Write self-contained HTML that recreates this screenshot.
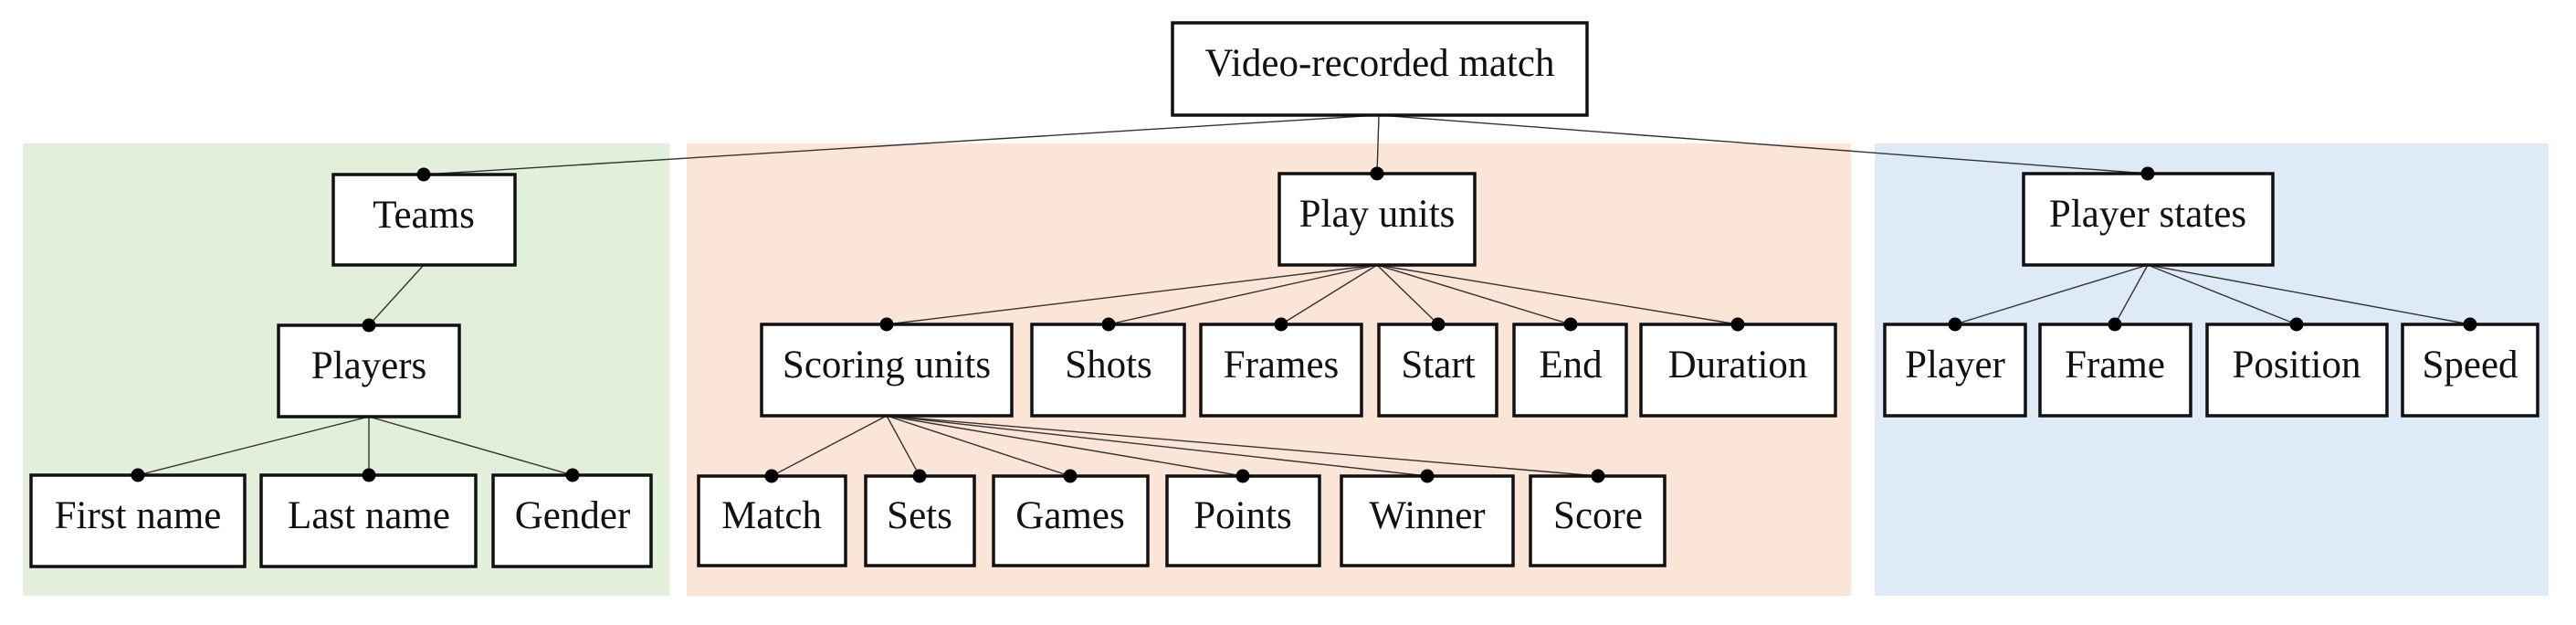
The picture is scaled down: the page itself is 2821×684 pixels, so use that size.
<!DOCTYPE html>
<html><head><meta charset="utf-8"><style>
html,body{margin:0;padding:0;background:#fff}
svg{display:block}
text{font-family:"Liberation Serif",serif;font-size:43px;fill:#111;text-anchor:middle}
.b{fill:#fff;stroke:#111;stroke-width:3.5}
.l{stroke:#333;stroke-width:1.4;fill:none}
</style></head><body>
<svg width="2821" height="684" viewBox="0 0 2821 684" xmlns="http://www.w3.org/2000/svg">
<rect x="25" y="157" width="708" height="495" fill="#e2efda"/>
<rect x="752" y="157" width="1275" height="495" fill="#fbe5d6"/>
<rect x="2053" y="157" width="738" height="495" fill="#deebf7"/>
<g class="l">
<line x1="1510" y1="126" x2="464" y2="191"/>
<line x1="1510" y1="126" x2="1508" y2="190"/>
<line x1="1510" y1="126" x2="2352" y2="190"/>
<line x1="464" y1="290" x2="404" y2="356"/>
<line x1="404" y1="456" x2="151" y2="520"/>
<line x1="404" y1="456" x2="404" y2="520"/>
<line x1="404" y1="456" x2="627" y2="520"/>
<line x1="1508" y1="290" x2="971" y2="355"/>
<line x1="1508" y1="290" x2="1214" y2="355"/>
<line x1="1508" y1="290" x2="1403" y2="355"/>
<line x1="1508" y1="290" x2="1575" y2="355"/>
<line x1="1508" y1="290" x2="1720" y2="355"/>
<line x1="1508" y1="290" x2="1903" y2="355"/>
<line x1="971" y1="455" x2="845" y2="521"/>
<line x1="971" y1="455" x2="1007" y2="521"/>
<line x1="971" y1="455" x2="1172" y2="521"/>
<line x1="971" y1="455" x2="1361" y2="521"/>
<line x1="971" y1="455" x2="1563" y2="521"/>
<line x1="971" y1="455" x2="1750" y2="521"/>
<line x1="2352" y1="290" x2="2141" y2="355"/>
<line x1="2352" y1="290" x2="2316" y2="355"/>
<line x1="2352" y1="290" x2="2515" y2="355"/>
<line x1="2352" y1="290" x2="2705" y2="355"/>
</g>
<rect class="b" x="1284" y="25" width="454" height="101"/><text x="1511" y="83">Video-recorded match</text>
<rect class="b" x="365" y="191" width="199" height="99"/><text x="464" y="249">Teams</text>
<rect class="b" x="1401" y="190" width="214" height="100"/><text x="1508" y="248">Play units</text>
<rect class="b" x="2216" y="190" width="273" height="100"/><text x="2352" y="248">Player states</text>
<rect class="b" x="305" y="356" width="198" height="100"/><text x="404" y="414">Players</text>
<rect class="b" x="834" y="355" width="274" height="100"/><text x="971" y="413">Scoring units</text>
<rect class="b" x="1130" y="355" width="167" height="100"/><text x="1214" y="413">Shots</text>
<rect class="b" x="1315" y="355" width="176" height="100"/><text x="1403" y="413">Frames</text>
<rect class="b" x="1510" y="355" width="129" height="100"/><text x="1575" y="413">Start</text>
<rect class="b" x="1658" y="355" width="123" height="100"/><text x="1720" y="413">End</text>
<rect class="b" x="1797" y="355" width="213" height="100"/><text x="1903" y="413">Duration</text>
<rect class="b" x="2064" y="355" width="154" height="100"/><text x="2141" y="413">Player</text>
<rect class="b" x="2234" y="355" width="165" height="100"/><text x="2316" y="413">Frame</text>
<rect class="b" x="2417" y="355" width="197" height="100"/><text x="2515" y="413">Position</text>
<rect class="b" x="2631" y="355" width="148" height="100"/><text x="2705" y="413">Speed</text>
<rect class="b" x="34" y="520" width="234" height="100"/><text x="151" y="578">First name</text>
<rect class="b" x="286" y="520" width="235" height="100"/><text x="404" y="578">Last name</text>
<rect class="b" x="540" y="520" width="173" height="100"/><text x="627" y="578">Gender</text>
<rect class="b" x="765" y="521" width="161" height="98"/><text x="845" y="578">Match</text>
<rect class="b" x="948" y="521" width="119" height="98"/><text x="1007" y="578">Sets</text>
<rect class="b" x="1088" y="521" width="169" height="98"/><text x="1172" y="578">Games</text>
<rect class="b" x="1278" y="521" width="167" height="98"/><text x="1361" y="578">Points</text>
<rect class="b" x="1469" y="521" width="188" height="98"/><text x="1563" y="578">Winner</text>
<rect class="b" x="1676" y="521" width="147" height="98"/><text x="1750" y="578">Score</text>
<g fill="#000">
<circle cx="464" cy="191" r="7.5"/><circle cx="1508" cy="190" r="7.5"/><circle cx="2352" cy="190" r="7.5"/>
<circle cx="404" cy="356" r="7.5"/><circle cx="971" cy="355" r="7.5"/><circle cx="1214" cy="355" r="7.5"/>
<circle cx="1403" cy="355" r="7.5"/><circle cx="1575" cy="355" r="7.5"/><circle cx="1720" cy="355" r="7.5"/>
<circle cx="1903" cy="355" r="7.5"/><circle cx="2141" cy="355" r="7.5"/><circle cx="2316" cy="355" r="7.5"/>
<circle cx="2515" cy="355" r="7.5"/><circle cx="2705" cy="355" r="7.5"/>
<circle cx="151" cy="520" r="7.5"/><circle cx="404" cy="520" r="7.5"/><circle cx="627" cy="520" r="7.5"/>
<circle cx="845" cy="521" r="7.5"/><circle cx="1007" cy="521" r="7.5"/><circle cx="1172" cy="521" r="7.5"/>
<circle cx="1361" cy="521" r="7.5"/><circle cx="1563" cy="521" r="7.5"/><circle cx="1750" cy="521" r="7.5"/>
</g>
</svg>
</body></html>
